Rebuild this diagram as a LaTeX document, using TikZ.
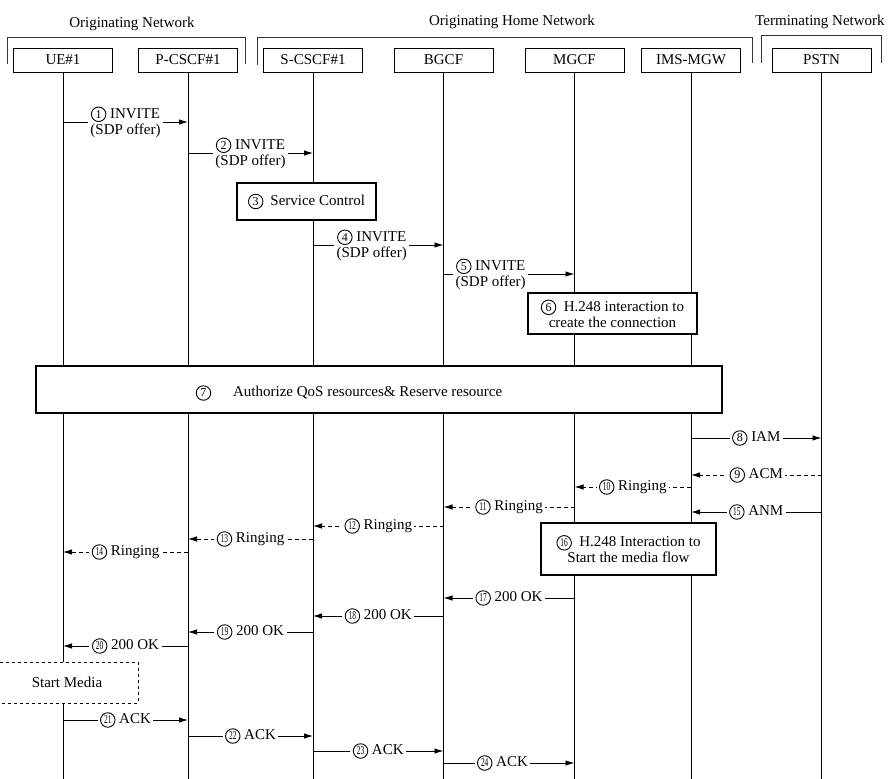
\documentclass[tikz,border=0pt]{standalone}
\usepackage{fontspec}
\setmainfont{Liberation Serif}
\usetikzlibrary{arrows.meta}
\newcommand{\cn}[1]{\tikz[baseline=(c.base)]\node[circle,draw,solid,fill=none,line width=0.9pt,inner sep=0pt,minimum size=14.5pt,font=\fontsize{12}{12}\selectfont] (c) {#1};}
\newcommand{\cnn}[1]{\cn{\scalebox{0.62}[1]{#1}}}

\begin{document}
\begin{tikzpicture}[x=1pt,y=-1pt,font=\fontsize{15}{16}\selectfont,>={Latex[length=9pt,width=5.5pt]},
  ent/.style={draw,line width=0.9pt,minimum width=99pt,minimum height=24pt,inner sep=0pt},
  act/.style={draw,fill=white,line width=1.2pt,align=center,inner sep=0pt},
  grp/.style={line width=0.6pt,black!80},
  life/.style={line width=0.8pt},
  lbl/.style={fill=white,inner sep=2.5pt,align=center},
  msg/.style={->,line width=0.9pt},
  rsp/.style={->,line width=0.9pt,dash pattern=on 4pt off 3pt}]
  \useasboundingbox[fill=white] (0,0) rectangle (889,779);
  % network groups
  \draw[grp] (7,64) -- (7,37) -- (245,37) -- (245,64);
  \draw[grp] (257,65) -- (257,37) -- (752,37) -- (752,63);
  \draw[grp] (761,63) -- (761,35) -- (881,35) -- (881,63);
  \node (orig) at (132,24) {Originating Network};
  \node (home) at (512,22) {Originating Home Network};
  \node (term) at (820,22) {Terminating Network};
  % entities
  \node[ent] (ue) at (63,60) {UE\#1};
  \node[ent] (pcscf) at (188,60) {P-CSCF\#1};
  \node[ent] (scscf) at (313,60) {S-CSCF\#1};
  \node[ent] (bgcf) at (443.5,60) {BGCF};
  \node[ent] (mgcf) at (574.5,60) {MGCF};
  \node[ent] (mgw) at (691,60) {IMS-MGW};
  \node[ent] (pstn) at (821.5,60) {PSTN};
  \foreach \n in {ue,pcscf,scscf,bgcf,mgcf,mgw,pstn} \draw[life] (\n.south) -- (\n.south |- 0,785);
  % actions
  \node[act,minimum width=139pt,minimum height=37pt] (svc) at (306.5,201.5) {\cn{3}\hspace{7pt}Service Control};
  \node[act,minimum width=169pt,minimum height=41pt] (conn) at (612.5,313.5) {\cn{6}\ \ H.248 interaction to\\create the connection};
  \node[act,line width=1.6pt,minimum width=686pt,minimum height=47pt] (qos) at (379,389.5) {};
  \node (qostext) at (349,393) {\cn{7}\hspace{22pt}Authorize QoS resources\& Reserve resource};
  \node[act,line width=2.2pt,minimum width=175pt,minimum height=52pt] (flow) at (628.5,549) {\cnn{16}\ \ H.248 Interaction to\\Start the media flow};
  \node[draw,dashed,fill=white,line width=0.8pt,minimum width=142pt,minimum height=41pt] (media) at (67,682.5) {Start Media};
  % messages
  \draw[msg] (ue |- 0,122) -- node[lbl] {\cn{1} INVITE\\(SDP offer)} (pcscf |- 0,122);
  \draw[msg] (pcscf |- 0,153) -- node[lbl] {\cn{2} INVITE\\(SDP offer)} (scscf |- 0,153);
  \draw[msg] (scscf |- 0,245) -- node[lbl,pos=0.45] {\cn{4} INVITE\\(SDP offer)} (bgcf |- 0,245);
  \draw[msg] (bgcf |- 0,274) -- node[lbl,pos=0.36] {\cn{5} INVITE\\(SDP offer)} (mgcf |- 0,274);
  \draw[msg] (mgw |- 0,438) -- node[lbl] {\cn{8} IAM} (pstn |- 0,438);
  \draw[rsp] (pstn |- 0,475) -- node[lbl] {\cn{9} ACM} (mgw |- 0,475);
  \draw[rsp] (mgw |- 0,487) -- node[lbl] {\cnn{10} Ringing} (mgcf |- 0,487);
  \draw[rsp] (mgcf |- 0,507) -- node[lbl] {\cnn{11} Ringing} (bgcf |- 0,507);
  \draw[msg] (pstn |- 0,512) -- node[lbl] {\cnn{15} ANM} (mgw |- 0,512);
  \draw[rsp] (bgcf |- 0,526) -- node[lbl] {\cnn{12} Ringing} (scscf |- 0,526);
  \draw[rsp] (scscf |- 0,539) -- node[lbl] {\cnn{13} Ringing} (pcscf |- 0,539);
  \draw[rsp] (pcscf |- 0,552) -- node[lbl] {\cnn{14} Ringing} (ue |- 0,552);
  \draw[msg] (mgcf |- 0,598) -- node[lbl] {\cnn{17} 200 OK} (bgcf |- 0,598);
  \draw[msg] (bgcf |- 0,616) -- node[lbl] {\cnn{18} 200 OK} (scscf |- 0,616);
  \draw[msg] (scscf |- 0,632) -- node[lbl] {\cnn{19} 200 OK} (pcscf |- 0,632);
  \draw[msg] (pcscf |- 0,646) -- node[lbl] {\cnn{20} 200 OK} (ue |- 0,646);
  \draw[msg] (ue |- 0,720) -- node[lbl] {\cnn{21} ACK} (pcscf |- 0,720);
  \draw[msg] (pcscf |- 0,736) -- node[lbl] {\cnn{22} ACK} (scscf |- 0,736);
  \draw[msg] (scscf |- 0,751) -- node[lbl] {\cnn{23} ACK} (bgcf |- 0,751);
  \draw[msg] (bgcf |- 0,763) -- node[lbl,pos=0.45] {\cnn{24} ACK} (mgcf |- 0,763);
\end{tikzpicture}
\end{document}
